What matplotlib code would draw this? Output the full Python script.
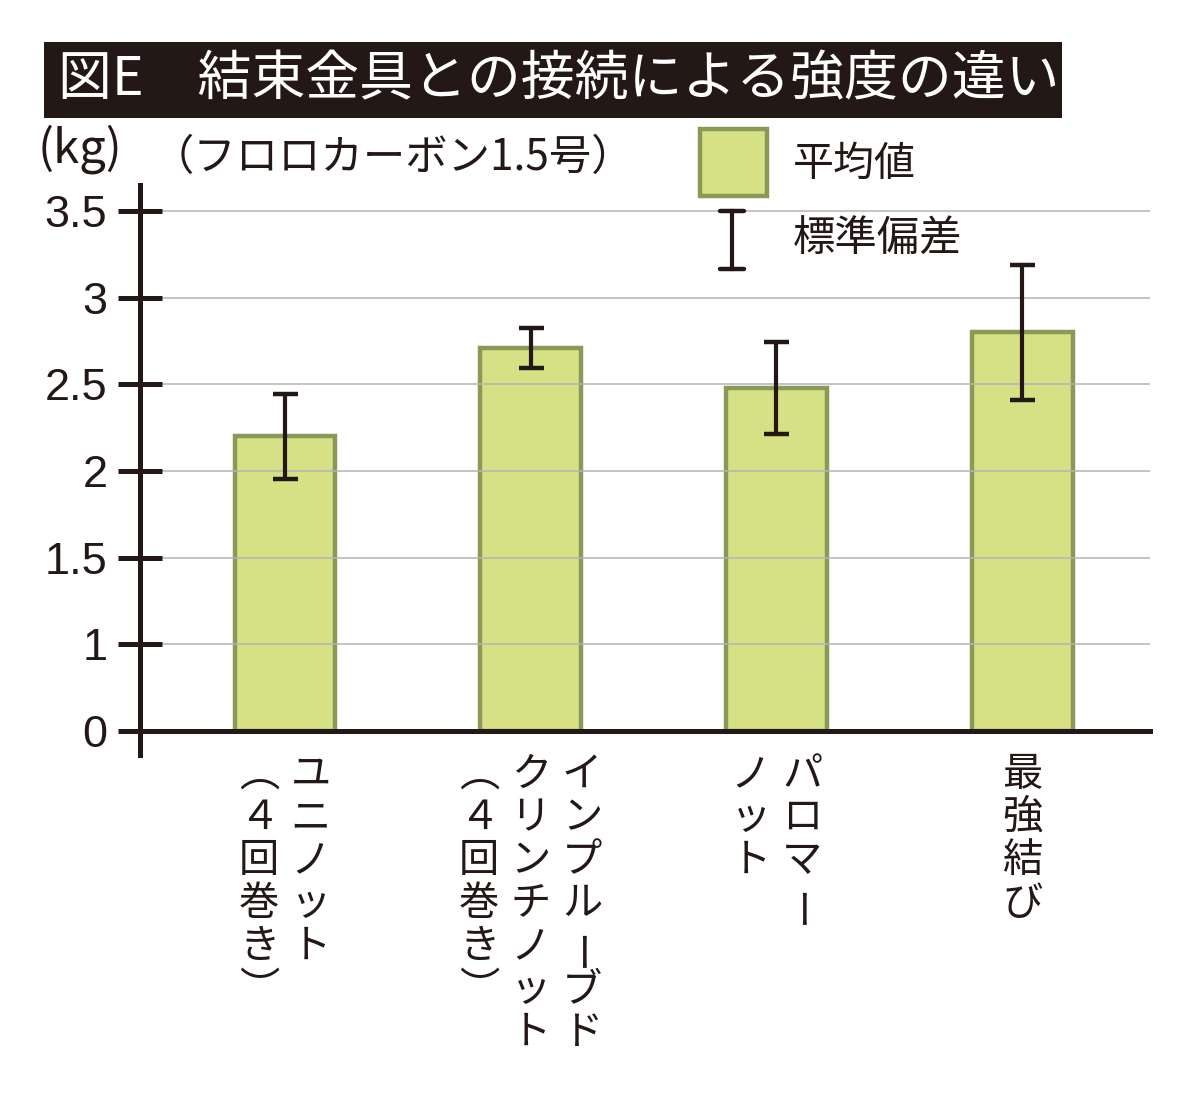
import numpy as np
import matplotlib
matplotlib.use("Agg")
import matplotlib.pyplot as plt
from matplotlib.patches import Rectangle
from matplotlib.lines import Line2D

# ---- data ----------------------------------------------------------------
# each label is written vertically; columns are listed right-to-left
label_columns = [
    ["ユニノット", "（４回巻き）"],
    ["インプルーブド", "クリンチノット", "（４回巻き）"],
    ["パロマー", "ノット"],
    ["最強結び"],
]
mean_kg = [2.20, 2.71, 2.48, 2.80]
sd_kg = [0.245, 0.115, 0.265, 0.39]
y_ticks = [0, 1, 1.5, 2, 2.5, 3, 3.5]
y_tick_labels = ["0", "1", "1.5", "2", "2.5", "3", "3.5"]

title = "図E　結束金具との接続による強度の違い"
unit_label = "(kg)"
subtitle = "（フロロカーボン1.5号）"
legend_mean = "平均値"
legend_sd = "標準偏差"

# vertical-writing forms for the brackets; the long vowel mark is turned instead
VERTICAL_FORMS = {"（": "︵", "）": "︶"}

# ---- style ---------------------------------------------------------------
JP = ["Noto Sans CJK JP", "DejaVu Sans"]
DARK = "#231815"
FILL = "#d5e184"
EDGE = "#8a9858"
GRID = "#b4b4b4"

W, H = 1200, 1103


def fx(px):
    return px / W


def fy(py):
    return 1 - py / H


# axis is compressed between 0 and 1, then 0.5 per step
def fwd(v):
    v = np.asarray(v, dtype=float)
    return np.where(v < 1, v, 1 + (v - 1) * 2)


def inv(u):
    u = np.asarray(u, dtype=float)
    return np.where(u < 1, u, 1 + (u - 1) / 2)


fig = plt.figure(figsize=(W / 100, H / 100), dpi=100)
fig.patch.set_facecolor("white")
ax = fig.add_axes([fx(140), fy(755), fx(1150) - fx(140), fy(185) - fy(755)])
ax.set_yscale("function", functions=(fwd, inv))

x = np.arange(len(mean_kg))
ax.bar(x, mean_kg, width=0.41, color=FILL, edgecolor=EDGE, linewidth=3.2, zorder=1)
ax.errorbar(x, mean_kg, yerr=sd_kg, fmt="none", ecolor=DARK, elinewidth=3,
            capsize=9, capthick=3.2, zorder=4)

ax.set_ylim(-0.277, 3.65)
ax.set_xlim(-0.59, 3.52)
ax.set_yticks(y_ticks)
ax.set_yticklabels(y_tick_labels, fontfamily="Liberation Sans", fontsize=32.5, color=DARK)
ax.yaxis.grid(True, color=GRID, linewidth=1.1, zorder=2.5)
ax.set_axisbelow(False)

for side in ("top", "right"):
    ax.spines[side].set_visible(False)
ax.spines["left"].set_linewidth(3.6)
ax.spines["left"].set_color(DARK)
ax.spines["bottom"].set_position(("data", 0))
ax.spines["bottom"].set_linewidth(3.6)
ax.spines["bottom"].set_color(DARK)
ax.spines["bottom"].set_zorder(3)
ax.tick_params(axis="y", direction="inout", length=31, width=3.6, color=DARK, pad=8)
ax.tick_params(axis="x", length=0, labelbottom=False)

# vertical (tategaki) category labels
COL_STEP = 37.0   # points between columns
PITCH = 31.0      # points between characters
for i, cols in enumerate(label_columns):
    n = len(cols)
    for j, col in enumerate(cols):
        dx = ((n - 1) / 2 - j) * COL_STEP
        for k, ch in enumerate(col):
            kw = dict(ha="center", va="center")
            if ch == "ー":
                kw.update(rotation=90, rotation_mode="anchor")
                dxx = dx + 2
            else:
                dxx = dx
            ax.annotate(VERTICAL_FORMS.get(ch, ch), xy=(i, 0),
                        xycoords=ax.get_xaxis_transform(),
                        xytext=(dxx, -14 - k * PITCH), textcoords="offset points",
                        fontsize=29, family=JP, color=DARK, annotation_clip=False,
                        **kw)

# title band
fig.add_artist(Rectangle((fx(44), fy(118)), fx(1062) - fx(44), fy(42) - fy(118),
                         transform=fig.transFigure, facecolor=DARK, edgecolor="none"))
fig.text(fx(58), fy(80), title, color="white", fontsize=38.8, family=JP,
         ha="left", va="center")

fig.text(fx(38), fy(149), unit_label, color=DARK, fontsize=34, family=JP,
         ha="left", va="center")
fig.text(fx(152), fy(158), subtitle, color=DARK, fontsize=30.5, family=JP,
         ha="left", va="center")

# legend
fig.add_artist(Rectangle((fx(700), fy(196)), fx(767) - fx(700), fy(129) - fy(196),
                         transform=fig.transFigure, facecolor=FILL, edgecolor=EDGE,
                         linewidth=3.2))
fig.text(fx(793), fy(164), legend_mean, color=DARK, fontsize=29.5, family=JP,
         ha="left", va="center")
fig.add_artist(Line2D([fx(732), fx(732)], [fy(211), fy(269)], transform=fig.transFigure,
                      color=DARK, linewidth=3))
for yy in (211, 269):
    fig.add_artist(Line2D([fx(720), fx(744)], [fy(yy), fy(yy)], transform=fig.transFigure,
                          color=DARK, linewidth=3.2, solid_capstyle="round"))
fig.text(fx(793), fy(240), legend_sd, color=DARK, fontsize=30.5, family=JP,
         ha="left", va="center")

fig.savefig("out.png", dpi=100, facecolor="white")
